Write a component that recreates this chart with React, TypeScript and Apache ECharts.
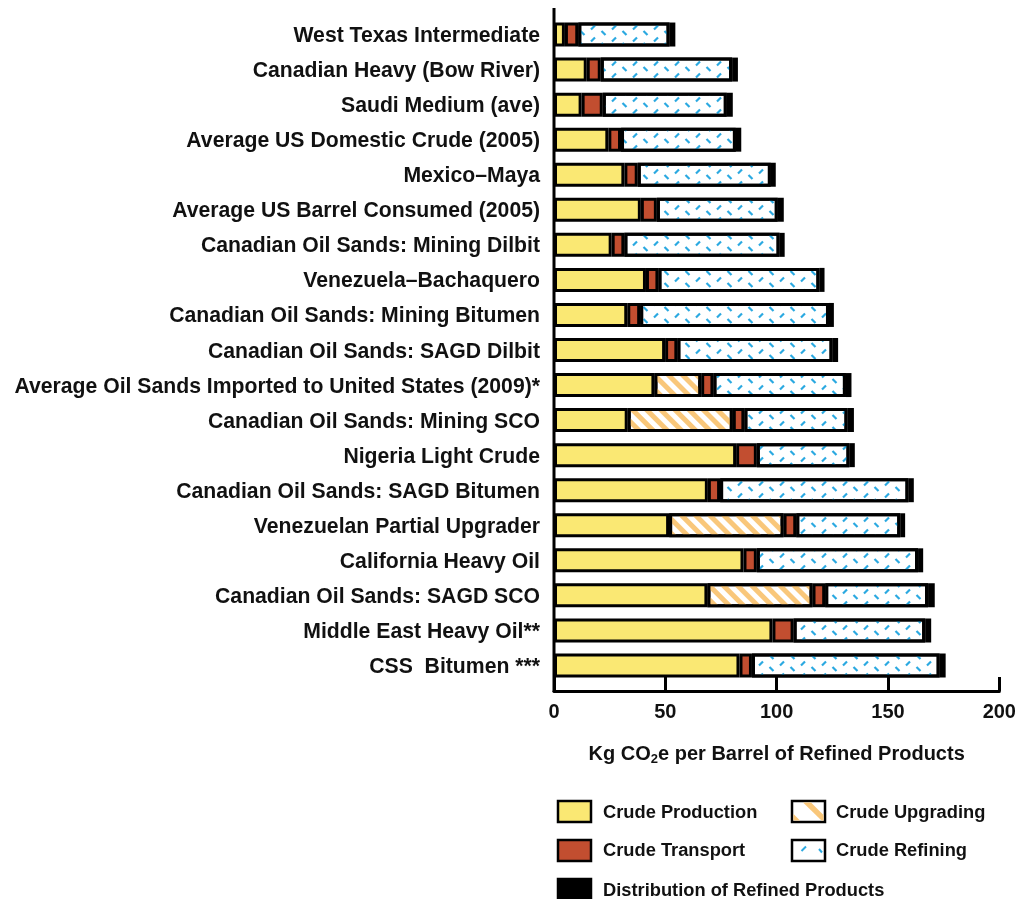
import React, { useEffect, useRef } from 'react';
import * as echarts from 'echarts';

const categories = [
  'West Texas Intermediate',
  'Canadian Heavy (Bow River)',
  'Saudi Medium (ave)',
  'Average US Domestic Crude (2005)',
  'Mexico–Maya',
  'Average US Barrel Consumed (2005)',
  'Canadian Oil Sands: Mining Dilbit',
  'Venezuela–Bachaquero',
  'Canadian Oil Sands: Mining Bitumen',
  'Canadian Oil Sands: SAGD Dilbit',
  'Average Oil Sands Imported to United States (2009)*',
  'Canadian Oil Sands: Mining SCO',
  'Nigeria Light Crude',
  'Canadian Oil Sands: SAGD Bitumen',
  'Venezuelan Partial Upgrader',
  'California Heavy Oil',
  'Canadian Oil Sands: SAGD SCO',
  'Middle East Heavy Oil**',
  'CSS  Bitumen ***',
];

const crudeProduction = [4.9, 14.7, 12.4, 24.4, 31.6, 39, 25.9, 41.3, 32.9, 49.9, 45.1, 33.1, 81.8, 69.1, 51.7, 85.1, 68.9, 98.1, 83.3];
const crudeUpgrading = [0, 0, 0, 0, 0, 0, 0, 0, 0, 0, 21, 47.2, 0, 0, 51.4, 0, 47.2, 0, 0];
const crudeTransport = [6, 6.3, 9.5, 5.7, 6, 7.2, 5.7, 5.6, 5.8, 5.5, 5.5, 5.2, 9.3, 5.5, 5.7, 6, 5.7, 9.5, 5.6];
const crudeRefining = [41, 59, 55.7, 51.6, 59.8, 54.3, 69.7, 72.3, 84.8, 69.7, 59.5, 46.3, 41.6, 84.6, 46.7, 72.4, 46.2, 59.1, 84.3];
const distribution = [2.6, 2.6, 2.7, 2.4, 2.2, 2.7, 2.3, 2.3, 2.2, 2.5, 2.5, 2.9, 2.4, 2.4, 2.2, 2.3, 3, 2.7, 2.7];

const xTicks = { min: 0, max: 200, interval: 50 };

const FONT = "'Liberation Sans', Arial, Helvetica, sans-serif";
const YELLOW = '#FAE873';
const RED = '#C24E30';
const ORANGE = '#F9C77A';
const BLUE = '#2BA9E1';

export default function App() {
  const ref = useRef<HTMLDivElement>(null);
  useEffect(() => {
    const chart = echarts.init(ref.current!, null, { renderer: 'svg' });
    const border = { borderColor: '#000', borderWidth: 3, borderJoin: 'miter' as const };
    const refiningPath =
      'path://M0 0L0.01 0L0 0.01Z M2.22 4.72L6.22 0.72L7.78 2.28L3.78 6.28Z M14.28 6.22L18.28 10.22L16.72 11.78L12.72 7.78Z M21 12L20.99 12L21 11.99Z';

    const mk = (name: string, data: number[], itemStyle: any) => ({
      name,
      type: 'bar',
      stack: 'total',
      barWidth: 24,
      data: data.map((v) => (v === 0 ? '-' : v)),
      itemStyle: { ...border, ...itemStyle },
      emphasis: { disabled: true },
    });

    const legendText = (x: number, y: number, text: string) => ({
      type: 'text',
      x,
      y,
      style: { text, fill: '#111', fontSize: 18.3, fontWeight: 'bold', fontFamily: FONT, verticalAlign: 'middle' },
    });
    const legendRect = (x: number, y: number, fill: string) => ({
      type: 'rect',
      shape: { x, y, width: 33, height: 21 },
      style: { fill, stroke: '#000', lineWidth: 2.5 },
    });

    chart.setOption({
      animation: false,
      grid: { left: 554, right: 19, top: 17, height: 666, containLabel: false },
      xAxis: {
        type: 'value',
        ...xTicks,
        offset: 8,
        axisLine: { show: true, lineStyle: { color: '#000', width: 3 } },
        axisTick: { show: true, inside: true, length: 14, lineStyle: { color: '#000', width: 3 } },
        splitLine: { show: false },
        axisLabel: { fontSize: 20, fontWeight: 'bold', color: '#111', fontFamily: FONT, margin: 10 },
        name: '{a|Kg CO}{s|2}{a|e per Barrel of Refined Products}',
        nameLocation: 'middle',
        nameGap: 50,
        nameTextStyle: {
          rich: {
            a: { fontSize: 20, fontWeight: 'bold', color: '#111', fontFamily: FONT, lineHeight: 24 },
            s: { fontSize: 13, fontWeight: 'bold', color: '#111', fontFamily: FONT, lineHeight: 10, verticalAlign: 'bottom' },
          },
        },
      },
      yAxis: {
        type: 'category',
        data: categories,
        inverse: true,
        axisLine: { show: false },
        axisTick: { show: false },
        axisLabel: { fontSize: 21.2, fontWeight: 'bold', color: '#111', fontFamily: FONT, margin: 14 },
      },
      series: [
        mk('Crude Production', crudeProduction, { color: YELLOW }),
        mk('Crude Upgrading', crudeUpgrading, {
          color: '#fff',
          decal: { symbol: 'rect', symbolSize: 1, color: ORANGE, dashArrayX: [1, 0], dashArrayY: [4.5, 5], rotation: Math.PI / 4 },
        }),
        mk('Crude Transport', crudeTransport, { color: RED }),
        mk('Crude Refining', crudeRefining, {
          color: '#fff',
          decal: {
            symbol: refiningPath,
            symbolSize: 1,
            symbolKeepAspect: false,
            color: BLUE,
            dashArrayX: [21, 0],
            dashArrayY: [12, 0],
            rotation: 0,
          },
        }),
        mk('Distribution of Refined Products', distribution, { color: '#000' }),
      ],
      graphic: [
        { type: 'line', shape: { x1: 554, y1: 8, x2: 554, y2: 692 }, style: { stroke: '#000', lineWidth: 3 } },
        legendRect(558, 801, YELLOW),
        legendText(603, 811, 'Crude Production'),
        legendRect(792, 801, '#fff'),
        { type: 'polygon', shape: { points: [[803, 802.5], [811, 802.5], [823.5, 815], [823.5, 820.5], [821.5, 820.5]] }, style: { fill: ORANGE } },
        { type: 'polygon', shape: { points: [[793.5, 814], [793.5, 820.5], [800, 820.5]] }, style: { fill: ORANGE } },
        legendText(836, 811, 'Crude Upgrading'),
        legendRect(558, 840, RED),
        legendText(603, 849.5, 'Crude Transport'),
        legendRect(792, 840, '#fff'),
        { type: 'line', shape: { x1: 801.5, y1: 851, x2: 806, y2: 846.5 }, style: { stroke: BLUE, lineWidth: 2 } },
        { type: 'line', shape: { x1: 819, y1: 849, x2: 822, y2: 852.5 }, style: { stroke: BLUE, lineWidth: 2 } },
        legendText(836, 849.5, 'Crude Refining'),
        legendRect(558, 879, '#000'),
        legendText(603, 889, 'Distribution of Refined Products'),
      ],
    });
    return () => chart.dispose();
  }, []);
  return <div ref={ref} style={{ position: 'fixed', left: 0, top: 0, width: 1019, height: 899 }} />;
}
